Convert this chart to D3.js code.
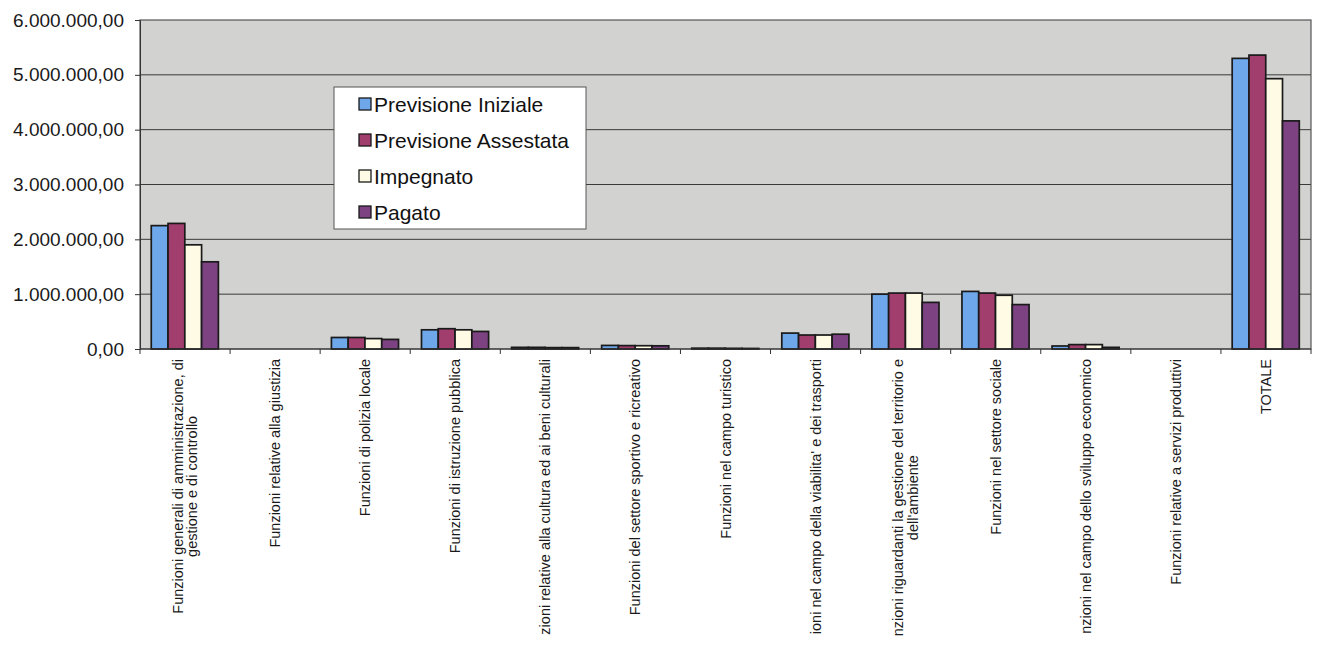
<!DOCTYPE html>
<html>
<head>
<meta charset="utf-8">
<script src="https://cdn.jsdelivr.net/npm/d3@7"></script>
<style>
  html, body { margin: 0; padding: 0; background: #ffffff; }
  svg { display: block; font-family: "Liberation Sans", Arial, sans-serif; }
</style>
</head>
<body>
<svg id="chart" width="1324" height="648"></svg>
<script>
// ---- data ----
const categories = [
  ["Funzioni generali di amministrazione, di", "gestione e di controllo"],
  ["Funzioni relative alla giustizia"],
  ["Funzioni di polizia locale"],
  ["Funzioni di istruzione pubblica"],
  ["zioni relative alla cultura ed ai beni culturali"],
  ["Funzioni del settore sportivo e ricreativo"],
  ["Funzioni nel campo turistico"],
  ["ioni nel campo della viabilita' e dei trasporti"],
  ["nzioni riguardanti la gestione del territorio e", "dell'ambiente"],
  ["Funzioni nel settore sociale"],
  ["nzioni nel campo dello sviluppo economico"],
  ["Funzioni relative a servizi produttivi"],
  ["TOTALE"]
];
const seriesNames = ["Previsione Iniziale", "Previsione Assestata", "Impegnato", "Pagato"];
const previsioneIniziale  = [2250000, 0, 210000, 350000, 30000, 65000, 15000, 290000, 1000000, 1050000, 55000, 0, 5300000];
const previsioneAssestata = [2290000, 0, 210000, 370000, 30000, 62000, 15000, 255000, 1020000, 1020000, 80000, 0, 5360000];
const impegnato           = [1900000, 0, 190000, 350000, 25000, 60000, 12000, 255000, 1020000,  980000, 80000, 0, 4930000];
const pagato              = [1590000, 0, 175000, 320000, 25000, 58000, 10000, 270000,  850000,  810000, 30000, 0, 4160000];
const yTicks = [0, 1000000, 2000000, 3000000, 4000000, 5000000, 6000000];
const seriesColors = ["#6ea8ea", "#a23e6e", "#fffbe4", "#7c4282"];

const seriesValues = [previsioneIniziale, previsioneAssestata, impegnato, pagato];
const table = categories.map((c, i) => ({
  idx: i,
  label: c,
  values: seriesNames.map((s, j) => ({ series: s, j: j, value: seriesValues[j][i] }))
}));

// ---- layout ----
const svg = d3.select("#chart");
const plot = { left: 140, right: 1311, top: 20, bottom: 349 };

const x0 = d3.scaleBand()
  .domain(d3.range(categories.length))
  .range([plot.left, plot.right])
  .paddingInner(0).paddingOuter(0);

const bw = x0.bandwidth();
const x1 = d3.scaleBand()
  .domain(d3.range(seriesNames.length))
  .range([bw * 0.125, bw * 0.87])
  .padding(0);

const y = d3.scaleLinear().domain([0, 6000000]).range([plot.bottom, plot.top]);

const itLocale = d3.formatLocale({ decimal: ",", thousands: ".", grouping: [3], currency: ["€", ""] });
const fmt = itLocale.format(",.2f");

// plot background
svg.append("rect")
  .attr("x", plot.left).attr("y", plot.top)
  .attr("width", plot.right - plot.left).attr("height", plot.bottom - plot.top)
  .attr("fill", "#d2d2d1");

// gridlines
svg.append("g")
  .selectAll("line")
  .data(yTicks.filter(t => t > 0 && t < 6000000))
  .join("line")
  .attr("x1", plot.left).attr("x2", plot.right)
  .attr("y1", d => y(d)).attr("y2", d => y(d))
  .attr("stroke", "#3a3a3a").attr("stroke-width", 1);

// plot border
svg.append("rect")
  .attr("x", plot.left).attr("y", plot.top)
  .attr("width", plot.right - plot.left).attr("height", plot.bottom - plot.top)
  .attr("fill", "none").attr("stroke", "#555").attr("stroke-width", 1.2);

// bars
const groups = svg.append("g").selectAll("g")
  .data(table)
  .join("g")
  .attr("transform", d => `translate(${x0(d.idx)},0)`);

groups.selectAll("rect")
  .data(d => d.values.filter(v => v.value > 0))
  .join("rect")
  .attr("x", d => x1(d.j))
  .attr("width", x1.bandwidth())
  .attr("y", d => y(d.value))
  .attr("height", d => Math.max(0, y(0) - y(d.value)))
  .attr("fill", d => seriesColors[d.j])
  .attr("stroke", "#1a1a1a")
  .attr("stroke-width", 1.7);

// y axis
const yAxis = d3.axisLeft(y).tickValues(yTicks).tickFormat(fmt).tickSize(5).tickPadding(11);
const gy = svg.append("g")
  .attr("transform", `translate(${plot.left},0)`)
  .call(yAxis);
gy.select(".domain").attr("stroke", "#333");
gy.selectAll(".tick line").attr("stroke", "#333");
gy.selectAll(".tick text")
  .attr("font-size", 19)
  .attr("fill", "#1a1a1a")
  .style("font-family", "'Liberation Sans', Arial, sans-serif");

// x axis (ticks between categories)
const gx = svg.append("g").attr("transform", `translate(0,${plot.bottom})`);
gx.append("line")
  .attr("x1", plot.left).attr("x2", plot.right)
  .attr("y1", 0).attr("y2", 0)
  .attr("stroke", "#333").attr("stroke-width", 1.2);
gx.selectAll("line.tk")
  .data(d3.range(categories.length + 1))
  .join("line")
  .attr("class", "tk")
  .attr("x1", d => plot.left + d * bw).attr("x2", d => plot.left + d * bw)
  .attr("y1", 0).attr("y2", 5)
  .attr("stroke", "#333");

// x labels (rotated -90, block ends near axis, lines centred)
const labelFont = 14.5;
const lineGap = 14.5;
const labelTop = plot.bottom + 10;
const lab = svg.append("g").selectAll("g")
  .data(table)
  .join("g");

lab.each(function(d) {
  const g = d3.select(this);
  const cx = x0(d.idx) + bw / 2;
  const n = d.label.length;
  const texts = g.selectAll("text")
    .data(d.label)
    .join("text")
    .attr("font-size", labelFont)
    .attr("fill", "#1a1a1a")
    .attr("text-anchor", "middle")
    .attr("dominant-baseline", "central")
    .text(t => t);
  let maxW = 0;
  texts.each(function() { maxW = Math.max(maxW, this.getComputedTextLength()); });
  const cy = labelTop + maxW / 2;
  texts.attr("transform", (t, i) => {
    const off = (i - (n - 1) / 2) * lineGap;
    return `translate(${cx + off},${cy}) rotate(-90)`;
  });
});

// legend
const legend = svg.append("g").attr("transform", "translate(334,87)");
legend.append("rect")
  .attr("x", 0).attr("y", 0).attr("width", 252).attr("height", 142)
  .attr("fill", "#ffffff").attr("stroke", "#555").attr("stroke-width", 1);
const li = legend.selectAll("g.li")
  .data(seriesNames)
  .join("g")
  .attr("class", "li")
  .attr("transform", (d, i) => `translate(25,${17 + i * 36})`);
li.append("rect")
  .attr("x", 0).attr("y", -6).attr("width", 12).attr("height", 12)
  .attr("fill", (d, i) => seriesColors[i])
  .attr("stroke", "#1a1a1a").attr("stroke-width", 1.3);
li.append("text")
  .attr("x", 15).attr("y", 0)
  .attr("dominant-baseline", "central")
  .attr("font-size", 21)
  .attr("fill", "#111")
  .text(d => d);
</script>
</body>
</html>
